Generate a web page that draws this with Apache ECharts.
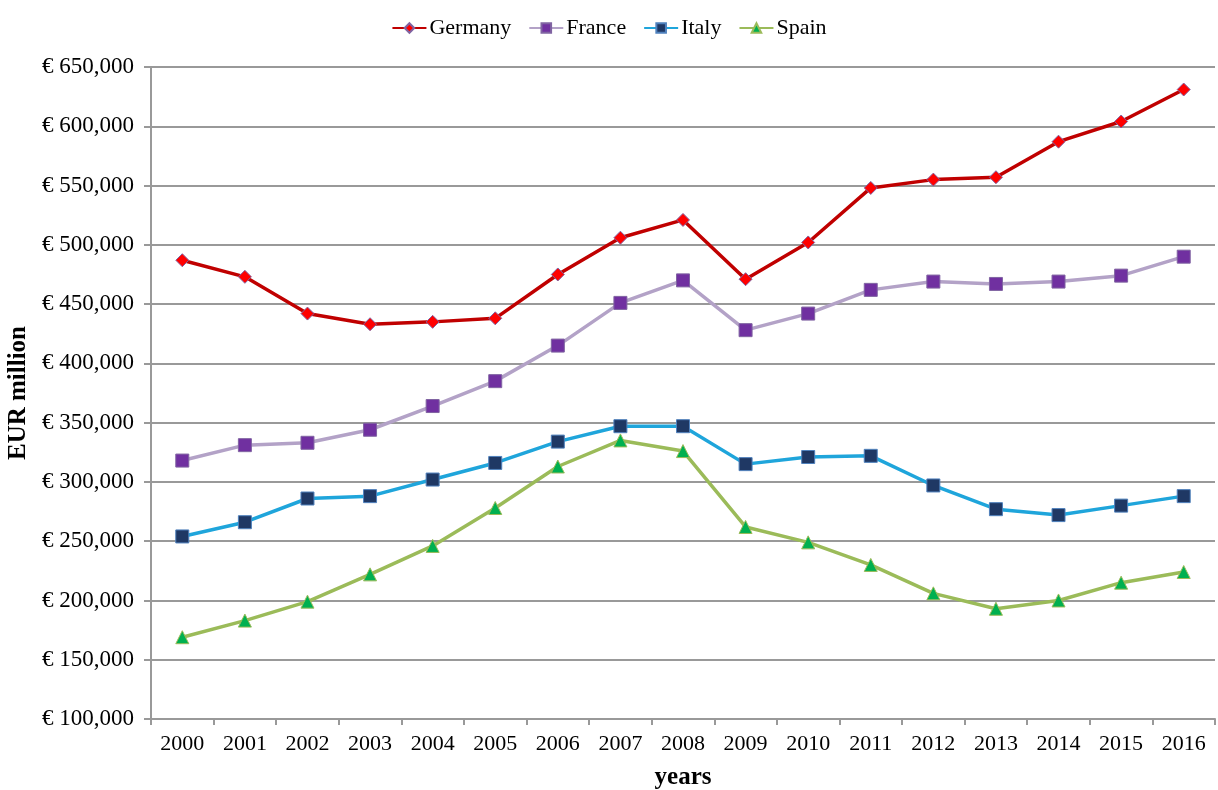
<!DOCTYPE html>
<html>
<head>
<meta charset="utf-8">
<script src="https://cdn.jsdelivr.net/npm/echarts@6/dist/echarts.min.js"></script>
<style>
  html,body{margin:0;padding:0;background:#fff;}
  #main{width:1218px;height:790px;}
</style>
</head>
<body>
<div id="main"></div>
<script>
const years = ["2000","2001","2002","2003","2004","2005","2006","2007","2008","2009","2010","2011","2012","2013","2014","2015","2016"];
const germany = [487000,473000,442000,433000,435000,438000,475000,506000,521000,471000,502000,548000,555000,557000,587000,604000,631000];
const france = [318000,331000,333000,344000,364000,385000,415000,451000,470000,428000,442000,462000,469000,467000,469000,474000,490000];
const italy = [254000,266000,286000,288000,302000,316000,334000,347000,347000,315000,321000,322000,297000,277000,272000,280000,288000];
const spain = [169000,183000,199000,222000,246000,278000,313000,335000,326000,262000,249000,230000,206000,193000,200000,215000,224000];

const font = "Liberation Serif";
let myChart = echarts.init(document.getElementById("main"));

function lineSeries(name, data, lineColor, symbol, markerColor, borderColor, size){
  return {
    name: name,
    type: "line",
    data: data,
    symbol: symbol,
    symbolSize: size,
    showAllSymbol: true,
    lineStyle: { color: lineColor, width: 3.5 },
    itemStyle: { color: markerColor, borderColor: borderColor, borderWidth: 1 },
    emphasis: { disabled: true }
  };
}

myChart.setOption({
  animation: false,
  textStyle: { fontFamily: font },
  color: ["#C00000","#B3A2C7","#1FA5DB","#9BBB59"],
  legend: {
    top: 12,
    left: "center",
    itemWidth: 34,
    itemHeight: 12,
    itemGap: 17,
    textStyle: { fontFamily: font, fontSize: 22, color: "#000", padding: [0, 0, 0, -2] },
    data: ["Germany","France","Italy","Spain"]
  },
  grid: { left: 151, right: 3, top: 67, bottom: 71, outerBoundsMode: "none" },
  xAxis: {
    type: "category",
    data: years,
    boundaryGap: true,
    name: "years",
    nameLocation: "middle",
    nameGap: 46,
    nameTextStyle: { fontFamily: font, fontSize: 25, fontWeight: "bold", color: "#000" },
    axisLine: { lineStyle: { color: "#999", width: 2 } },
    axisTick: { show: true, length: 6, lineStyle: { color: "#999", width: 2 } },
    axisLabel: { fontFamily: font, fontSize: 22, color: "#000", margin: 14 }
  },
  yAxis: {
    type: "value",
    min: 100000,
    max: 650000,
    interval: 50000,
    name: "EUR million",
    nameLocation: "middle",
    nameGap: 120,
    nameRotate: 90,
    nameTextStyle: { fontFamily: font, fontSize: 25, fontWeight: "bold", color: "#000" },
    axisLine: { show: true, lineStyle: { color: "#999", width: 2 } },
    axisTick: { show: true, length: 7, lineStyle: { color: "#999", width: 2 } },
    axisLabel: {
      fontFamily: font, fontSize: 23, color: "#000", margin: 17,
      formatter: v => "€ " + v.toLocaleString("en-US")
    },
    splitLine: { lineStyle: { color: "#999", width: 2 } }
  },
  series: [
    lineSeries("Germany", germany, "#C00000", "diamond", "#FF0000", "#8064A2", 13),
    lineSeries("France", france, "#B3A2C7", "rect", "#7030A0", "#8064A2", 13),
    lineSeries("Italy", italy, "#1FA5DB", "rect", "#1F3864", "#4F81BD", 13),
    lineSeries("Spain", spain, "#9BBB59", "triangle", "#00B050", "#9BBB59", 13)
  ]
});
</script>
</body>
</html>
